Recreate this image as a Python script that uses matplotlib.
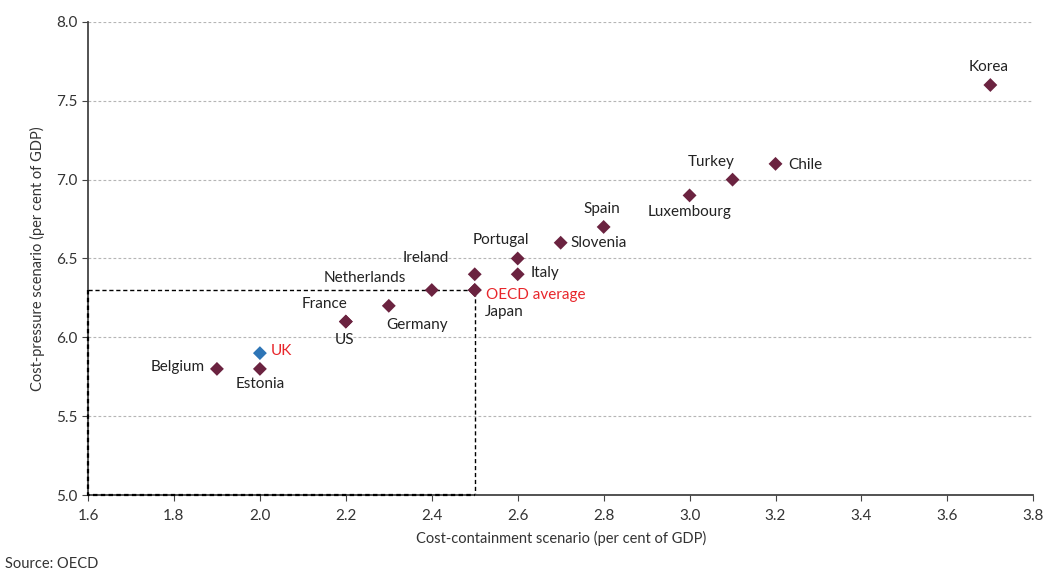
import matplotlib
matplotlib.use("Agg")
import matplotlib.pyplot as plt

# data (per cent of GDP)
countries = ["Belgium", "Estonia", "UK", "US", "France", "Germany", "Netherlands",
             "Ireland", "OECD average", "Japan", "Portugal", "Italy", "Slovenia",
             "Spain", "Luxembourg", "Turkey", "Chile", "Korea"]
containment = [1.9, 2.0, 2.0, 2.2, 2.2, 2.3, 2.4, 2.5, 2.5, 2.5, 2.6, 2.6, 2.7,
               2.8, 3.0, 3.1, 3.2, 3.7]
pressure = [5.8, 5.8, 5.9, 6.1, 6.1, 6.2, 6.3, 6.4, 6.3, 6.3, 6.5, 6.4, 6.6,
            6.7, 6.9, 7.0, 7.1, 7.6]
oecd_x, oecd_y = 2.5, 6.3

# label placement: (dx, dy in pixels, ha, va)
label_pos = {
    "Belgium": (-12, 2, "right", "center"),
    "Estonia": (0, -15, "center", "center"),
    "UK": (11, 2, "left", "center"),
    "US": (-1, -18, "center", "center"),
    "France": (-21, 18, "center", "center"),
    "Germany": (28, -19, "center", "center"),
    "Netherlands": (-26, 12, "right", "center"),
    "Ireland": (-26, 16, "right", "center"),
    "OECD average": (11, -5, "left", "center"),
    "Japan": (10, -22, "left", "center"),
    "Portugal": (-17, 18, "center", "center"),
    "Italy": (13, 1, "left", "center"),
    "Slovenia": (10, 0, "left", "center"),
    "Spain": (-2, 18, "center", "center"),
    "Luxembourg": (0, -17, "center", "center"),
    "Turkey": (-21, 18, "center", "center"),
    "Chile": (13, -1, "left", "center"),
    "Korea": (-2, 18, "center", "center"),
}

plt.rcParams["font.family"] = ["Lato", "DejaVu Sans"]

fig = plt.figure(figsize=(10.48, 5.77), dpi=100)
ax = fig.add_axes([0.084, 0.142, 0.902, 0.820])

maroon = "#6b2340"
blue = "#2e75b6"
red = "#e8262b"

colors = [blue if c == "UK" else maroon for c in countries]
ax.scatter(containment, pressure, marker="D", s=50, c=colors, zorder=3, linewidths=0)

for c, x, y in zip(countries, containment, pressure):
    dx, dy, ha, va = label_pos[c]
    col = red if c in ("UK", "OECD average") else "#222222"
    ax.annotate(c, (x, y), xytext=(dx, dy), textcoords="offset pixels",
                ha=ha, va=va, fontsize=11, color=col, zorder=4)

# dashed box up to OECD average
ax.plot([1.6, oecd_x, oecd_x], [oecd_y, oecd_y, 5.0], ls="--", color="black",
        lw=1, zorder=2, dashes=(3, 2))
ax.plot([1.6, 1.6, oecd_x], [oecd_y, 5.0, 5.0], ls="--", color="black",
        lw=1.6, zorder=5, clip_on=False, dashes=(2, 1.5))

ax.set_xlim(1.6, 3.8)
ax.set_ylim(5.0, 8.0)
ax.set_xticks([1.6 + 0.2 * i for i in range(12)])
ax.set_yticks([5.0 + 0.5 * i for i in range(7)])
ax.xaxis.set_major_formatter(matplotlib.ticker.FormatStrFormatter("%.1f"))
ax.yaxis.set_major_formatter(matplotlib.ticker.FormatStrFormatter("%.1f"))
ax.yaxis.grid(True, ls=(0, (2.5, 2)), color="#b5b5b5", lw=0.8)
ax.set_axisbelow(True)

for s in ("top", "right"):
    ax.spines[s].set_visible(False)
for s in ("left", "bottom"):
    ax.spines[s].set_color("#444444")
    ax.spines[s].set_linewidth(1.3)
ax.tick_params(axis="both", labelsize=11, color="#444444", length=4, colors="#333333")
ax.tick_params(axis="x", pad=6)

ax.set_xlabel("Cost-containment scenario (per cent of GDP)", fontsize=10.5, color="#333333", labelpad=6)
ax.set_ylabel("Cost-pressure scenario (per cent of GDP)", fontsize=10.5, color="#333333", labelpad=8)

fig.text(0.005, 0.015, "Source: OECD", fontsize=10.5, color="#333333")

fig.savefig("out.png", dpi=100)
